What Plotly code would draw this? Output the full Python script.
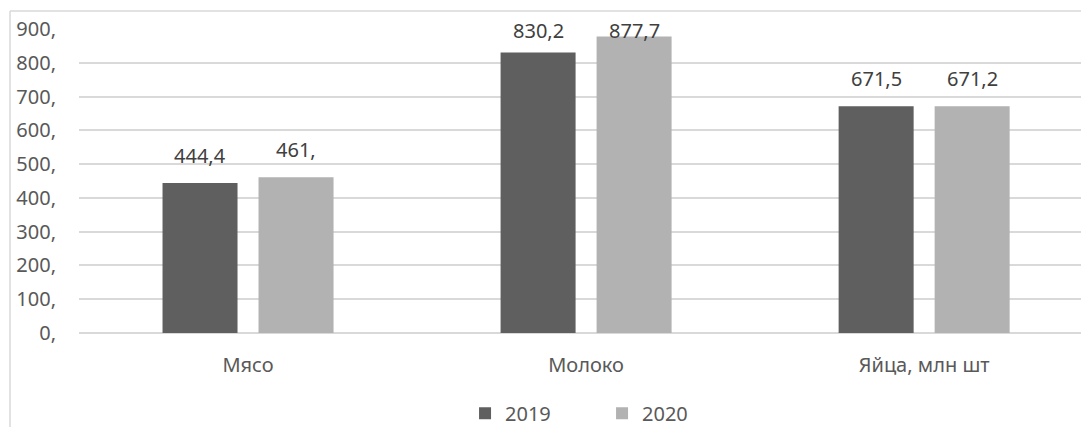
import plotly.graph_objects as go

categories = ["Мясо", "Молоко", "Яйца, млн шт"]
years = ["2019", "2020"]
values_2019 = [444.4, 830.2, 671.5]
values_2020 = [461.0, 877.7, 671.2]
labels_2019 = ["444,4", "830,2", "671,5"]
labels_2020 = ["461,", "877,7", "671,2"]
ytick_vals = [0, 100, 200, 300, 400, 500, 600, 700, 800, 900]
ytick_text = ["0,", "100,", "200,", "300,", "400,", "500,", "600,", "700,", "800,", "900,"]

W, H = 1081, 427
ML, MR, MT, MB = 79, 0, 29, 94
FONT = "Noto Sans"
XR = [-0.5, 2.464]
YR = [0, 900]
BARGAP = 0.432
GROUPGAP = 0.21875
LABEL_CEIL = 814  # labels stop rising near the top of the plot area (as in the original)
colors = ["#5f5f5f", "#b2b2b2"]

fig = go.Figure()
for name, vals, col in zip(years, [values_2019, values_2020], colors):
    fig.add_trace(go.Bar(
        name=name, x=categories, y=vals,
        marker=dict(color=col, line=dict(width=0)),
    ))

pw = W - ML - MR
ph = H - MT - MB
px_per_cat = pw / (XR[1] - XR[0])
slot = px_per_cat * (1 - BARGAP) / 2

annotations = []
for k, (vals, labs) in enumerate([(values_2019, labels_2019), (values_2020, labels_2020)]):
    shift = (k - 0.5) * slot
    for c, v, t in zip(categories, vals, labs):
        annotations.append(dict(
            x=c, y=min(v, LABEL_CEIL), xref="x", yref="y", text=t, showarrow=False,
            xanchor="center", yanchor="bottom", xshift=shift, yshift=12,
            font=dict(family=FONT, size=20, color="#404040"),
        ))

bx = (10 - ML) / pw
by = (H - MB - 11) / ph
bb = -(MB) / ph

fig.update_layout(
    width=W, height=H,
    margin=dict(l=ML, r=MR, t=MT, b=MB, pad=0, autoexpand=False),
    paper_bgcolor="white", plot_bgcolor="white",
    barmode="group", bargap=BARGAP, bargroupgap=GROUPGAP,
    font=dict(family=FONT, size=20, color="#595959"),
    showlegend=True,
    legend=dict(orientation="h", x=0.522, xanchor="center", y=-0.2, yanchor="top",
                font=dict(family=FONT, size=20, color="#595959"),
                entrywidth=92, entrywidthmode="pixels", itemwidth=30,
                traceorder="normal"),
    xaxis=dict(range=XR, showgrid=False, showline=False, zeroline=False,
               tickfont=dict(family=FONT, size=20, color="#595959"),
               ticks="", ticklabelstandoff=18),
    yaxis=dict(range=YR, tickvals=ytick_vals, ticktext=ytick_text,
               showgrid=True, gridcolor="#d9d9d9", gridwidth=1.6,
               zeroline=True, zerolinecolor="#d9d9d9", zerolinewidth=1.6,
               showline=False, ticks="", ticklabelstandoff=22,
               tickfont=dict(family=FONT, size=20, color="#595959")),
    annotations=annotations,
    shapes=[
        dict(type="line", xref="paper", yref="paper", x0=bx, x1=1.01, y0=by, y1=by,
             line=dict(color="#d9d9d9", width=1.5)),
        dict(type="line", xref="paper", yref="paper", x0=bx, x1=bx, y0=by, y1=bb - 0.05,
             line=dict(color="#d9d9d9", width=1.5)),
    ],
)

fig.write_html("out.html",
               config={"displayModeBar": False},
               post_script="document.body.style.margin='0';document.body.style.overflow='hidden';")
